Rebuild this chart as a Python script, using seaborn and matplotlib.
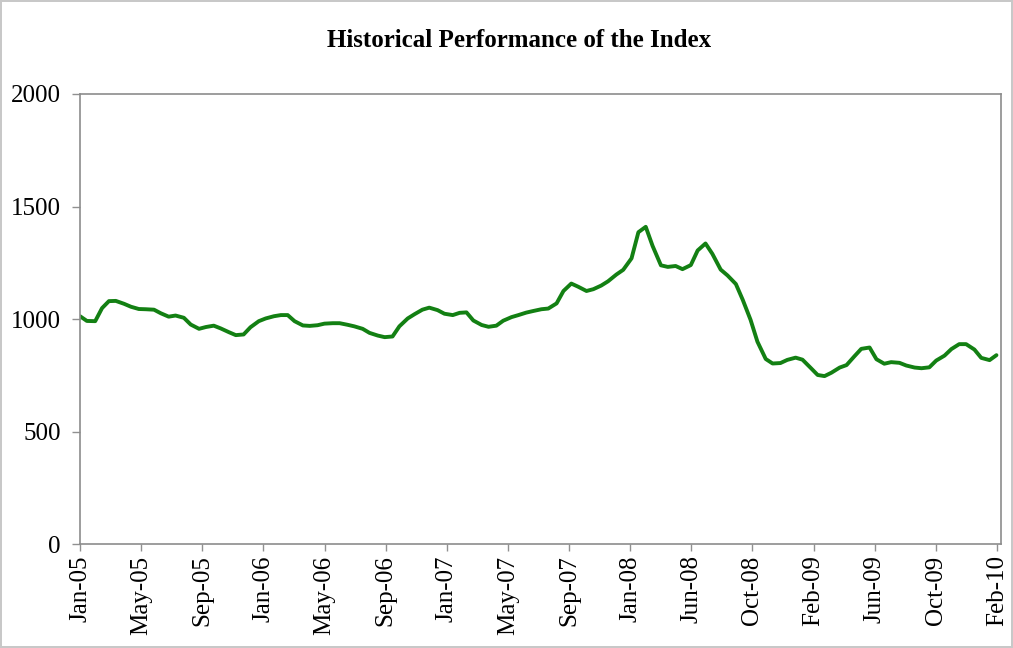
import pandas as pd
import matplotlib.pyplot as plt
import seaborn as sns

# semi-monthly readings of the index
dates = pd.date_range("2005-01-01", "2010-02-15", freq="SMS")
index_values = [
    # 2005
    1013, 992, 991, 1049, 1080, 1081, 1068, 1055, 1045, 1044, 1042, 1026,
    1011, 1016, 1006, 976, 957, 965, 971, 959, 942, 929, 932, 964,
    # 2006
    991, 1003, 1013, 1018, 1018, 991, 972, 970, 973, 980, 982, 982,
    975, 968, 957, 939, 927, 920, 923, 968, 1003, 1022, 1042, 1051,
    # 2007
    1040, 1024, 1018, 1028, 1030, 994, 974, 966, 971, 993, 1009, 1018,
    1029, 1036, 1044, 1047, 1070, 1125, 1158, 1144, 1125, 1133, 1149, 1168,
    # 2008
    1198, 1219, 1270, 1386, 1410, 1325, 1239, 1232, 1236, 1222, 1240, 1305,
    1336, 1290, 1220, 1194, 1156, 1086, 997, 900, 823, 803, 805, 819,
    # 2009
    829, 820, 783, 752, 747, 762, 785, 796, 835, 868, 874, 822,
    802, 809, 806, 794, 785, 782, 786, 816, 838, 867, 889, 889,
    # 2010
    865, 828, 818, 840,
]

tick_labels = ["Jan-05", "May-05", "Sep-05", "Jan-06", "May-06", "Sep-06",
               "Jan-07", "May-07", "Sep-07", "Jan-08", "Jun-08", "Oct-08",
               "Feb-09", "Jun-09", "Oct-09", "Feb-10"]
y_ticks = [0, 500, 1000, 1500, 2000]

df = pd.DataFrame({"Date": dates, "Index": index_values})

sns.set_style("white")
plt.rcParams['font.family'] = ['Liberation Serif', 'DejaVu Serif']
plt.rcParams['text.color'] = 'black'

fig = plt.figure(figsize=(10.13, 6.48), dpi=100, edgecolor='#c8c8c8', linewidth=1.5)
ax = fig.add_axes([0.079, 0.16, 0.909, 0.695])

sns.lineplot(data=df, x="Date", y="Index", ax=ax, color='#138013', linewidth=2.8)
ax.lines[0].set_solid_joinstyle('round')
ax.lines[0].set_solid_capstyle('round')

# category-style axis: labels spaced evenly over the period
tick_pos = pd.date_range("2005-01-01", "2010-02-16", periods=len(tick_labels))
ax.set_xticks(tick_pos)
ax.set_xticklabels(tick_labels, rotation=90, fontsize=18, color='black')
ax.set_xlim(pd.Timestamp("2005-01-01"), pd.Timestamp("2010-02-24"))

ax.set_ylim(0, 2000)
ax.set_yticks(y_ticks)
ax.set_yticklabels([str(v) for v in y_ticks], fontsize=18, color='black')

ax.set_xlabel("")
ax.set_ylabel("")
ax.tick_params(axis='x', direction='out', length=5, width=1, color='#909090',
               bottom=True, pad=3)
ax.tick_params(axis='y', direction='out', length=6, width=1, color='#909090',
               left=True, pad=8)
for side in ax.spines.values():
    side.set_color('#8c8c8c')
    side.set_linewidth(1.2)

fig.text(0.512, 0.937, "Historical Performance of the Index", fontsize=18,
         fontweight='bold', ha='center', va='center', color='black')

plt.savefig("out.png", dpi=100)
